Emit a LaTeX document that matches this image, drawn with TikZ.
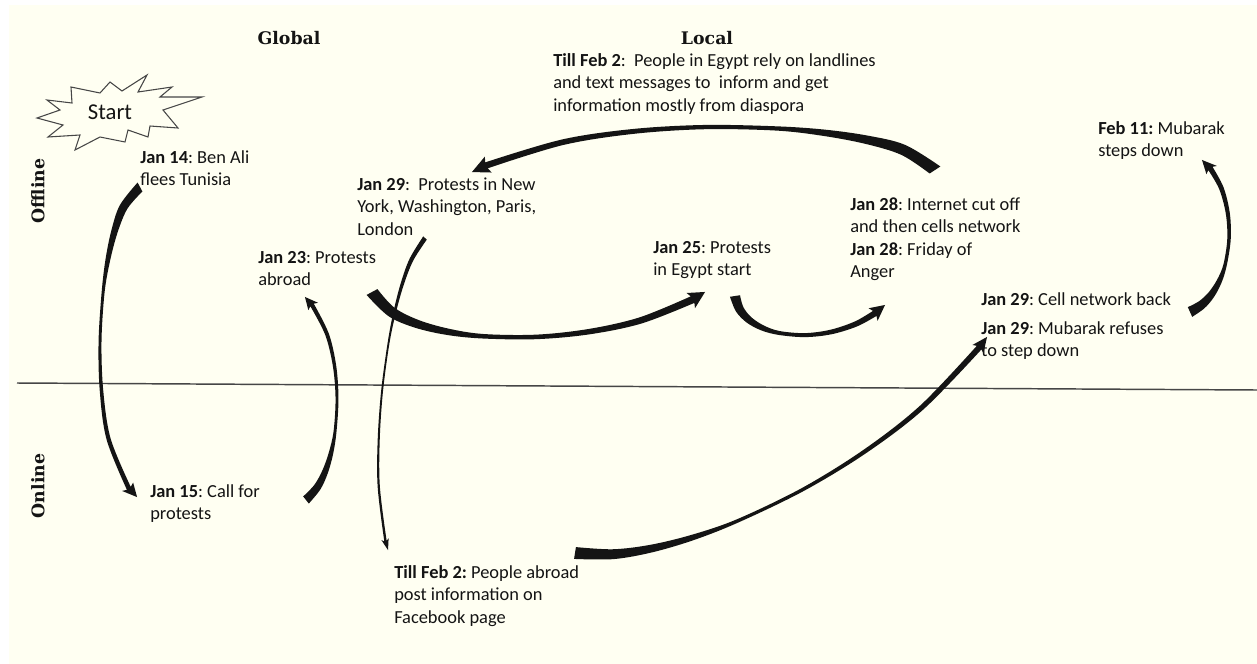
\documentclass[tikz,border=0pt]{standalone}
\usepackage{fontspec}
\setmainfont{Carlito}
\newfontfamily\headfont{DejaVu Serif}
\usetikzlibrary{decorations.markings}
\frenchspacing
\definecolor{cream}{RGB}{255,255,242}
\definecolor{inkcol}{RGB}{20,20,20}
\definecolor{axiscol}{RGB}{70,70,70}

% tapered arrow: #1 prefix, #2 start half-width, #3 middle half-width,
% #4 half-width before head, #5 head half-width, #6 head length, #7 path
\newcommand\tarrow[7]{%
\path[decoration={markings,
 mark=at position 0.3pt with {\coordinate (#1l0) at (-0.3pt,#2pt); \coordinate (#1r0) at (-0.3pt,-#2pt);},
 mark=at position 0.08 with {\coordinate (#1l1) at (0pt,{0.75*#2pt+0.25*#3pt}); \coordinate (#1r1) at (0pt,{-0.75*#2pt-0.25*#3pt});},
 mark=at position 0.16 with {\coordinate (#1l2) at (0pt,{0.5*#2pt+0.5*#3pt}); \coordinate (#1r2) at (0pt,{-0.5*#2pt-0.5*#3pt});},
 mark=at position 0.25 with {\coordinate (#1l3) at (0pt,{0.25*#2pt+0.75*#3pt}); \coordinate (#1r3) at (0pt,{-0.25*#2pt-0.75*#3pt});},
 mark=at position 0.35 with {\coordinate (#1l4) at (0pt,#3pt); \coordinate (#1r4) at (0pt,-#3pt);},
 mark=at position 0.5 with {\coordinate (#1l5) at (0pt,#3pt); \coordinate (#1r5) at (0pt,-#3pt);},
 mark=at position 0.65 with {\coordinate (#1l6) at (0pt,{0.7*#3pt+0.3*#4pt}); \coordinate (#1r6) at (0pt,{-0.7*#3pt-0.3*#4pt});},
 mark=at position 0.8 with {\coordinate (#1l7) at (0pt,{0.35*#3pt+0.65*#4pt}); \coordinate (#1r7) at (0pt,{-0.35*#3pt-0.65*#4pt});},
 mark=at position -#6pt with {\coordinate (#1l8) at (0pt,#4pt); \coordinate (#1r8) at (0pt,-#4pt); \coordinate (#1hl) at (-1.5pt,#5pt); \coordinate (#1hr) at (-1.5pt,-#5pt);},
 mark=at position -0.2pt with {\coordinate (#1t) at (0.2pt,0pt);}
}, decorate] #7;
\fill[inkcol] plot[smooth, tension=0.55] coordinates {(#1l0) (#1l1) (#1l2) (#1l3) (#1l4) (#1l5) (#1l6) (#1l7) (#1l8)} -- (#1hl) -- (#1t) -- (#1hr) -- plot[smooth, tension=0.55] coordinates {(#1r8) (#1r7) (#1r6) (#1r5) (#1r4) (#1r3) (#1r2) (#1r1) (#1r0)} -- cycle;
}

\begin{document}
\begin{tikzpicture}[x=0.75pt,y=-0.75pt,
  txt/.style={anchor=north west, inner sep=0pt, align=left, text=inkcol,
    font=\fontsize{13.8}{16.9}\selectfont},
  head/.style={inner sep=0pt, text=inkcol, font=\headfont\bfseries\fontsize{13}{15}\selectfont},
  starline/.style={draw=axiscol, line width=0.8pt, line join=miter}]
\useasboundingbox (0,0) rectangle (1257,664);
\fill[white] (0,0) rectangle (1257,664);
\fill[cream] (9,5) rectangle (1257,664);

% axis line
\draw[axiscol, line width=1.1pt] (17,383) -- (1257,390);

% headings
\node[head] (global) at (289,38) {Global};
\node[head] (local) at (707,38) {Local};
\node[head, rotate=90] (offline) at (38,191) {Offline};
\node[head, rotate=90] (online) at (38,486) {Online};

% start star
\draw[starline] (71,87) -- (100,93) -- (110,82) -- (122,91) -- (147,75) -- (138,92) -- (172,87) -- (160,97) -- (202,97) -- (163,110) -- (178,128) -- (150,126) -- (148,137) -- (128,130) -- (125,142) -- (100,137) -- (75,150) -- (80,135) -- (48,137) -- (63,125) -- (37,118) -- (60,110) -- (47,100) -- (72,103) -- cycle;
\node[inner sep=0pt, text=inkcol, font=\fontsize{17}{20}\selectfont] (start) at (110,112) {Start};

% event texts
\node[txt] (j14) at (140,147) {\strut\textbf{Jan 14}: Ben Ali\\flees Tunisia};
\node[txt] (j29p) at (357,174) {\strut\textbf{Jan 29}:~ Protests in New\\York, Washington, Paris,\\London};
\node[txt] (j23) at (258,247) {\strut\textbf{Jan 23}: Protests\\abroad};
\node[txt] (j25) at (653,237) {\strut\textbf{Jan 25}: Protests\\in Egypt start};
\node[txt] (tf2a) at (553,50) {\strut\textbf{Till Feb 2}:~ People in Egypt rely on landlines\\and text messages to~ inform and get\\information mostly from diaspora};
\node[txt] (j28) at (850,194) {\strut\textbf{Jan 28}: Internet cut off\\and then cells network\\\textbf{Jan 28}: Friday of\\Anger};
\node[txt] (f11) at (1098,118) {\strut\textbf{Feb 11:} Mubarak\\steps down};
\node[txt] (j29c) at (981,289) {\strut\textbf{Jan 29}: Cell network back};
\node[txt] (j29m) at (981,318) {\strut\textbf{Jan 29}: Mubarak refuses\\to step down};
\node[txt] (j15) at (150,481) {\strut\textbf{Jan 15}: Call for\\protests};
\node[txt] (tf2b) at (394,562) {\strut\textbf{Till Feb 2:} People abroad\\post information on\\Facebook page};

% connector end points
\coordinate (a1s) at (140,187);  \coordinate (a1e) at (137,497);
\coordinate (a2s) at (306,500);  \coordinate (a2e) at (305,297);
\coordinate (a3s) at (425,238);  \coordinate (a3e) at (388,550);
\coordinate (a4s) at (372,292);  \coordinate (a4e) at (705,292);
\coordinate (a5s) at (735,296);  \coordinate (a5e) at (885,305);
\coordinate (a6s) at (935,170);  \coordinate (a6e) at (472,172);
\coordinate (a7s) at (575,553);  \coordinate (a7e) at (987,337);
\coordinate (a8s) at (1190,312); \coordinate (a8e) at (1202,160);

% arrows
\tarrow{A}{3.8}{1.1}{1.8}{5.2}{9}{(a1s) .. controls (95,210) and (80,450) .. (a1e)}
\tarrow{B}{3.4}{1.1}{1.6}{4.6}{8}{(a2s) .. controls (345,470) and (350,340) .. (a2e)}
\tarrow{C}{1.8}{0.7}{0.9}{2.8}{7}{(a3s) .. controls (385,280) and (365,480) .. (a3e)}
\tarrow{D}{4.6}{1.7}{2.8}{6.5}{11}{(a4s) .. controls (405,355) and (620,350) .. (a4e)}
\tarrow{E}{3.8}{1.5}{2.3}{5.8}{10}{(a5s) .. controls (742,345) and (840,348) .. (a5e)}
\tarrow{F}{4.8}{1.6}{2.4}{6.5}{12}{(a6s) .. controls (905,122) and (610,103) .. (a6e)}
\tarrow{G}{4.5}{1.3}{2.2}{5.2}{10}{(a7s) .. controls (680,570) and (900,460) .. (a7e)}
\tarrow{H}{4.0}{1.3}{2.0}{5.0}{9}{(a8s) .. controls (1240,290) and (1240,190) .. (a8e)}
\end{tikzpicture}
\end{document}
